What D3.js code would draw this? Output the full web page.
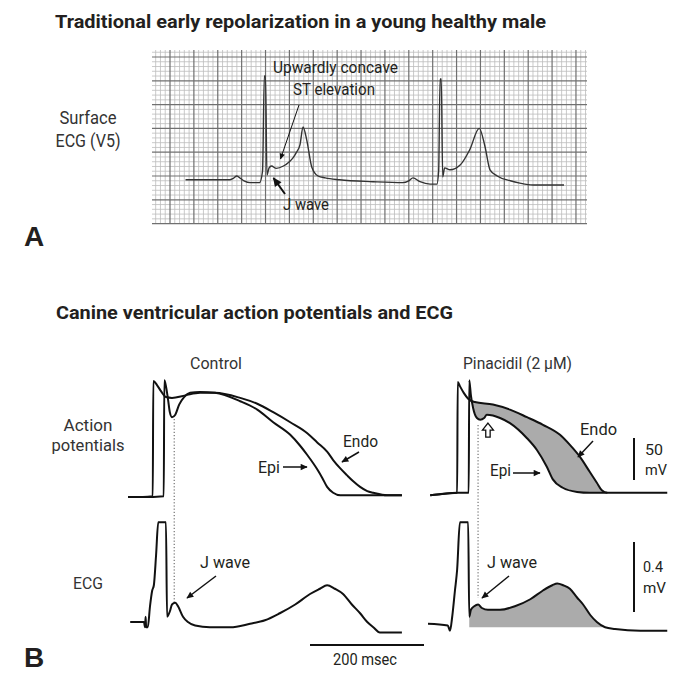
<!DOCTYPE html>
<html><head><meta charset="utf-8">
<script src="https://cdn.jsdelivr.net/npm/d3@7/dist/d3.min.js"></script>
<style>
html,body{margin:0;padding:0;background:#fff;}
svg{display:block;}
text{font-family:Roboto,"Open Sans",sans-serif;fill:#231f20;}
</style></head><body>
<svg id="chart" width="682" height="675"></svg>
<script>
// ---------- DATA ----------
// Panel A: surface ECG (V5) — time (s), amplitude (mV)
const ecgA = [[0.13,-0.08],[0.50,-0.08],[0.53,-0.05],[0.56,0.0],[0.59,-0.05],[0.62,-0.1],[0.67,-0.14],[0.75,-0.14],[0.775,0.1],[0.79,2.1],[0.80,2.1],[0.812,0.02],[0.83,0.17],[0.85,0.21],[0.89,0.16],[0.95,0.21],[1.00,0.3],[1.03,0.38],[1.06,0.5],[1.089,0.66],[1.114,1.03],[1.145,0.76],[1.187,0.19],[1.24,0.0],[1.30,-0.04],[1.42,-0.08],[1.70,-0.12],[1.95,-0.14],[2.00,-0.1],[2.035,-0.04],[2.094,-0.12],[2.178,-0.17],[2.235,-0.17],[2.25,0.1],[2.262,2.04],[2.272,2.04],[2.284,-0.02],[2.30,0.17],[2.345,0.13],[2.43,0.23],[2.51,0.55],[2.59,1.0],[2.638,0.62],[2.68,0.13],[2.74,0.0],[2.85,-0.1],[2.93,-0.15],[3.04,-0.19],[3.30,-0.19]];

// Panel B: canine action potentials — time (ms), membrane potential (mV)
const apControlEndo = [[0,-85],[27,-85],[45,-84],[46,53],[53,48],[60,41],[69,34],[80,33],[104,36],[131,39],[158,39],[204,33],[235,26],[264,16],[295,4],[326,-9],[344,-20],[362,-31],[373,-41],[386,-51],[398,-59],[409,-66],[422,-73],[435,-78],[446,-80],[471,-83],[498,-83]];
const apControlEpi = [[0,-85],[27,-85],[65,-84],[66,54],[69,47],[73,30],[76,16],[80,10],[86,13],[93,25],[102,34],[113,39],[131,40],[158,39],[204,29],[235,19],[264,4],[295,-11],[313,-24],[326,-35],[344,-52],[353,-62],[362,-73],[373,-80],[386,-83],[498,-83]];
const apPinEndo = [[4,-83],[31,-81],[53,-80],[54,52],[58,47],[65,39],[73,32],[85,28],[118,25],[149,19],[180,10],[209,1],[240,-11],[258,-23],[276,-37],[294,-55],[307,-68],[316,-77],[326,-80],[349,-80],[435,-80]];
const apPinEpi = [[4,-83],[53,-80],[74,-80],[75,54],[78,36],[82,21],[89,9],[95,7],[102,9],[107,13],[118,12],[131,9],[149,3],[180,-15],[198,-29],[216,-49],[227,-64],[245,-74],[271,-79],[294,-80],[326,-80]];

// Panel B: ECG — time (ms), amplitude (mV)
const ecgControl = [[4,0],[29,0],[31,-0.03],[32,0.03],[33,-0.03],[36,-0.03],[40,0.09],[44,0.18],[47,0.21],[51,0.38],[55,0.57],[69,0.57],[71,0.03],[76,0.06],[80,0.1],[86,0.11],[91,0.09],[100,0.03],[109,0],[122,-0.02],[149,-0.03],[186,-0.03],[222,-0.01],[249,0.01],[276,0.05],[304,0.1],[331,0.16],[349,0.19],[362,0.21],[376,0.19],[391,0.16],[407,0.1],[422,0.05],[435,0],[446,-0.03],[458,-0.06],[476,-0.06],[498,-0.06]];
const ecgPin = [[0,-0.01],[36,-0.02],[40,-0.05],[44,0.03],[49,0.18],[53,0.3],[58,0.57],[73,0.57],[75,0.03],[78,0.07],[84,0.09],[91,0.1],[98,0.08],[109,0.07],[131,0.07],[158,0.09],[186,0.13],[209,0.18],[226,0.21],[235,0.22],[246,0.21],[258,0.19],[271,0.14],[282,0.1],[295,0.04],[307,0],[322,-0.03],[340,-0.04],[386,-0.05],[435,-0.05]];

const jPointControl = 84;   // ms
const jPointPin = 91;       // ms
const shadeECGFrom = 75, shadeECGTo = 322, shadeECGBase = -0.03;
const shadeAPFrom = 73, shadeAPTo = 326;
const scaleBarTime = 200, scaleBarAP = 50, scaleBarECG = 0.4;

// ---------- SCALES ----------
const svg = d3.select("#chart");
const xA = d3.scaleLinear().domain([0,1]).range([170, 289.4]);
const yA = d3.scaleLinear().domain([0,1]).range([176, 128.4]);
const xC = d3.scaleLinear().domain([0,500]).range([128,403]);
const xP = d3.scaleLinear().domain([0,500]).range([428,703]);
const yAP = d3.scaleLinear().domain([-85,-35]).range([497,455]);
const yE = d3.scaleLinear().domain([0,0.4]).range([622,552]);

// ---------- DEFS ----------
const defs = svg.append("defs");
function marker(id,w,h){
  defs.append("marker").attr("id",id).attr("viewBox","0 0 10 10").attr("refX",9).attr("refY",5)
    .attr("markerWidth",w).attr("markerHeight",h).attr("markerUnits","userSpaceOnUse").attr("orient","auto")
    .append("path").attr("d","M0,0.5 L10,5 L0,9.5 z").attr("fill","#111");
}
marker("arr",9,7); marker("arrBig",12,9); marker("arrSm",8,6);

// ---------- PANEL A GRID ----------
const gA = svg.append("g");
const tMin=-0.1508, tMax=3.4925, vMin=-1.0, vMax=2.647;
d3.range(-3,88).filter(k=>k%5!==0).forEach(k=>{
  gA.append("line").attr("x1",xA(k*0.04)).attr("x2",xA(k*0.04)).attr("y1",yA(vMax)).attr("y2",yA(vMin))
    .attr("stroke","#bdbdbd").attr("stroke-width",0.8);
});
d3.range(-10,27).filter(k=>k%5!==0).forEach(k=>{
  gA.append("line").attr("y1",yA(k/10)).attr("y2",yA(k/10)).attr("x1",xA(tMin)).attr("x2",xA(tMax))
    .attr("stroke","#bdbdbd").attr("stroke-width",0.8);
});
d3.range(0,18).forEach(k=>{
  gA.append("line").attr("x1",xA(k*0.2)).attr("x2",xA(k*0.2)).attr("y1",yA(vMax)).attr("y2",yA(vMin))
    .attr("stroke","#707070").attr("stroke-width",1.2);
});
d3.range(-2,6).forEach(k=>{
  gA.append("line").attr("y1",yA(k*0.5)).attr("y2",yA(k*0.5)).attr("x1",xA(tMin)).attr("x2",xA(tMax))
    .attr("stroke","#707070").attr("stroke-width",1.2);
});
const lineA = d3.line().x(d=>xA(d[0])).y(d=>yA(d[1])).curve(d3.curveMonotoneX);
gA.append("path").attr("d",lineA(ecgA)).attr("fill","none").attr("stroke","#333").attr("stroke-width",1.4).attr("stroke-linejoin","round");

// ---------- PANEL B ----------
const lineC = d3.line().x(d=>xC(d[0])).y(d=>yAP(d[1])).curve(d3.curveMonotoneX);
const lineP = d3.line().x(d=>xP(d[0])).y(d=>yAP(d[1])).curve(d3.curveMonotoneX);
const lineEC = d3.line().x(d=>xC(d[0])).y(d=>yE(d[1])).curve(d3.curveMonotoneX);
const lineEP = d3.line().x(d=>xP(d[0])).y(d=>yE(d[1])).curve(d3.curveMonotoneX);

// shaded AP difference (pinacidil)
const upper = apPinEndo.filter(d=>d[0]>=shadeAPFrom && d[0]<=shadeAPTo);
const lower = apPinEpi.filter(d=>d[0]>=78 && d[0]<=shadeAPTo).slice().reverse();
svg.append("path").attr("d", d3.line().x(d=>xP(d[0])).y(d=>yAP(d[1])).curve(d3.curveLinear)(upper.concat(lower))+"Z")
  .attr("fill","#ababab").attr("stroke","none");
// shaded ECG area (pinacidil)
const areaE = d3.area().x(d=>xP(d[0])).y0(yE(shadeECGBase)).y1(d=>yE(d[1])).curve(d3.curveMonotoneX);
svg.append("path").attr("d",areaE(ecgPin.filter(d=>d[0]>=shadeECGFrom && d[0]<=shadeECGTo))).attr("fill","#ababab");

// dotted J-point lines
svg.append("line").attr("x1",xC(jPointControl)).attr("x2",xC(jPointControl)).attr("y1",419).attr("y2",604)
  .attr("stroke","#555").attr("stroke-width",1).attr("stroke-dasharray","1.2,2");
svg.append("line").attr("x1",xP(jPointPin)).attr("x2",xP(jPointPin)).attr("y1",425).attr("y2",598)
  .attr("stroke","#555").attr("stroke-width",1).attr("stroke-dasharray","1.2,2");

const traceStyle = p => p.attr("fill","none").attr("stroke","#111").attr("stroke-width",2).attr("stroke-linejoin","round");
traceStyle(svg.append("path").attr("d",lineC(apControlEndo)));
traceStyle(svg.append("path").attr("d",lineC(apControlEpi)));
traceStyle(svg.append("path").attr("d",lineP(apPinEndo)));
traceStyle(svg.append("path").attr("d",lineP(apPinEpi)));
traceStyle(svg.append("path").attr("d",lineEC(ecgControl)));
traceStyle(svg.append("path").attr("d",lineEP(ecgPin)));

// hollow arrow (pinacidil notch)
const tipX = xP(109), tipY = yAP(3);
svg.append("path").attr("d",`M${tipX},${tipY} L${tipX+5.5},${tipY+7} L${tipX+2.2},${tipY+7} L${tipX+2.2},${tipY+14} L${tipX-2.2},${tipY+14} L${tipX-2.2},${tipY+7} L${tipX-5.5},${tipY+7} Z`)
  .attr("fill","#fff").attr("stroke","#111").attr("stroke-width",1.3).attr("stroke-linejoin","miter");

// scale bars
svg.append("line").attr("x1",310).attr("x2",424).attr("y1",645).attr("y2",645).attr("stroke","#111").attr("stroke-width",2);
svg.append("line").attr("x1",634).attr("x2",634).attr("y1",438).attr("y2",480).attr("stroke","#111").attr("stroke-width",2);
svg.append("line").attr("x1",634).attr("x2",634).attr("y1",542).attr("y2",612).attr("stroke","#111").attr("stroke-width",2);

// annotation arrows
function arrow(x1,y1,x2,y2,w,m){
  svg.append("line").attr("x1",x1).attr("y1",y1).attr("x2",x2).attr("y2",y2)
    .attr("stroke","#111").attr("stroke-width",w).attr("marker-end",`url(#${m})`);
}
arrow(299,105,280.5,159,1,"arrSm");
arrow(285,194,273.5,178,2,"arrBig");
arrow(359,452,342,462,1.5,"arr");
arrow(283,467,307,467,1.5,"arr");
arrow(593,441,578,457,1.5,"arr");
arrow(513,473,540,473,1.5,"arr");
arrow(216,576,187,598,1.5,"arr");
arrow(509,576,482,598,1.5,"arr");

// ---------- TEXT ----------
function txt(x,y,s,size,opts={}){
  const t = svg.append("text").attr("x",x).attr("y",y).text(s).attr("font-size",size);
  if(opts.anchor) t.attr("text-anchor",opts.anchor);
  if(opts.bold) t.attr("font-weight","bold");
  if(opts.len) t.attr("textLength",opts.len).attr("lengthAdjust","spacingAndGlyphs");
  if(opts.family) t.style("font-family",opts.family);
  if(opts.fill) t.style("fill",opts.fill);
  return t;
}
txt(55,28,"Traditional early repolarization in a young healthy male",18,{bold:true,len:491});
txt(56,319,"Canine ventricular action potentials and ECG",18,{bold:true,len:397});
txt(88,124,"Surface",18,{anchor:"middle",len:57,fill:"#333"});
txt(88,147,"ECG (V5)",18,{anchor:"middle",len:65,fill:"#333"});
txt(273,73,"Upwardly concave",17,{len:125});
txt(293,95,"ST elevation",17,{len:82});
txt(283,210,"J wave",17,{len:46});
txt(24,246,"A",28,{bold:true,family:"'Liberation Sans',Arial,sans-serif"});
txt(24,667,"B",28,{bold:true,family:"'Liberation Sans',Arial,sans-serif"});
txt(190,369,"Control",16,{len:52,fill:"#333"});
txt(463,369,"Pinacidil (2 μM)",16,{len:109,fill:"#333"});
txt(88,431,"Action",17,{anchor:"middle",len:49,fill:"#333"});
txt(88,451,"potentials",17,{anchor:"middle",len:73,fill:"#333"});
txt(88,589,"ECG",17,{anchor:"middle",len:30,fill:"#333"});
txt(343,447,"Endo",16,{len:35});
txt(258,473,"Epi",16,{len:22});
txt(580,435,"Endo",16,{len:37});
txt(490,476,"Epi",16,{len:21});
txt(645,455,"50",15,{len:18});
txt(645,475,"mV",15,{len:22});
txt(200,568,"J wave",16,{len:50});
txt(487,568,"J wave",16,{len:50});
txt(643,572,"0.4",15,{len:20});
txt(643,593,"mV",15,{len:23});
txt(333,665,"200 msec",16,{len:64});
</script>
</body></html>
